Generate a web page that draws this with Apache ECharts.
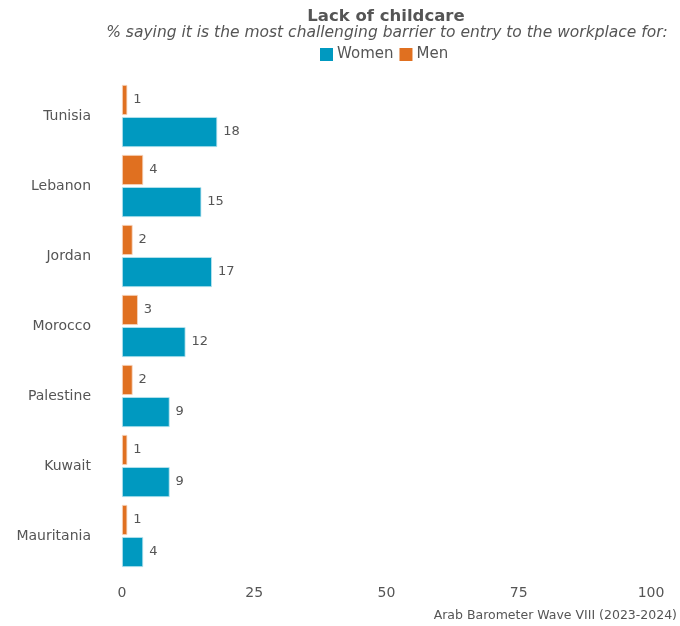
<!DOCTYPE html>
<html>
<head>
<meta charset="utf-8">
<script src="https://cdn.jsdelivr.net/npm/echarts@6/dist/echarts.min.js"></script>
<style>
  html, body { margin: 0; padding: 0; background: #fff; }
  #chart { width: 680px; height: 626px; }
</style>
</head>
<body>
<div id="chart"></div>
<script>
// Share naming lack of childcare as the main barrier to work, by country
const countries = ['Tunisia', 'Lebanon', 'Jordan', 'Morocco', 'Palestine', 'Kuwait', 'Mauritania'];
const women = [18, 15, 17, 12, 9, 9, 4];
const men = [1, 4, 2, 3, 2, 1, 1];
const xTicks = [0, 25, 50, 75, 100];

const FONT = '"DejaVu Sans", "Open Sans", sans-serif';
const TEXT = '#555555';
const BLUE = '#0099C0';
const ORANGE = '#E07020';

const chart = echarts.init(document.getElementById('chart'), null, { renderer: 'canvas' });

const valueLabel = {
  show: true,
  position: 'right',
  distance: 6,
  color: TEXT,
  fontFamily: FONT,
  fontSize: 13
};

chart.setOption({
  animation: false,
  backgroundColor: '#ffffff',
  textStyle: { fontFamily: FONT, color: TEXT },
  title: [
    {
      text: 'Lack of childcare',
      left: 386, top: 8, textAlign: 'center', padding: 0,
      textStyle: { fontFamily: FONT, fontSize: 16.5, fontWeight: 'bold', color: TEXT }
    },
    {
      text: '% saying it is the most challenging barrier to entry to the workplace for:',
      left: 387, top: 25, textAlign: 'center', padding: 0,
      textStyle: { fontFamily: FONT, fontSize: 15.5, fontStyle: 'italic', fontWeight: 'normal', color: TEXT }
    },
    {
      text: 'Arab Barometer Wave VIII (2023-2024)',
      right: 3, top: 609, padding: 0,
      textStyle: { fontFamily: FONT, fontSize: 12.5, fontWeight: 'normal', color: TEXT }
    }
  ],
  legend: {
    data: ['Women', 'Men'],
    left: 320, top: 47, padding: 0,
    itemWidth: 13, itemHeight: 13, itemGap: 6,
    icon: 'rect',
    itemStyle: { borderWidth: 0 },
    textStyle: { fontFamily: FONT, fontSize: 15, color: TEXT, padding: [0, 0, 0, -1] }
  },
  grid: { left: 122, right: 29, top: 81, bottom: 55, containLabel: false },
  xAxis: {
    type: 'value',
    min: xTicks[0], max: xTicks[xTicks.length - 1], interval: 25,
    axisLine: { show: false }, axisTick: { show: false },
    splitLine: { show: false },
    axisLabel: { color: TEXT, fontFamily: FONT, fontSize: 14, margin: 15 }
  },
  yAxis: {
    type: 'category',
    data: countries,
    inverse: true,
    axisLine: { show: false }, axisTick: { show: false },
    axisLabel: { color: TEXT, fontFamily: FONT, fontSize: 14, margin: 31 }
  },
  series: [
    {
      name: 'Men', type: 'bar', data: men,
      barWidth: 30, barGap: '7%',
      itemStyle: { color: ORANGE, borderColor: '#f6d6c0', borderWidth: 0.8 },
      label: valueLabel
    },
    {
      name: 'Women', type: 'bar', data: women,
      barWidth: 30,
      itemStyle: { color: BLUE, borderColor: '#bfe6f0', borderWidth: 0.8 },
      label: valueLabel
    }
  ]
});
</script>
</body>
</html>
